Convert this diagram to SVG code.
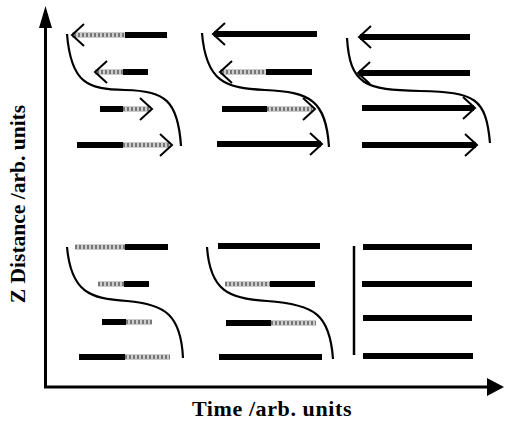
<svg xmlns="http://www.w3.org/2000/svg" width="506" height="422" viewBox="0 0 506 422">
<style>
.bk{stroke:#000;stroke-width:6;stroke-linecap:butt}
.g1{stroke:#cccccc;stroke-width:6}
.g2{stroke:#777;stroke-width:4;stroke-dasharray:2 2}
.hd{fill:none;stroke:#000;stroke-width:2}
.cv{fill:none;stroke:#000;stroke-width:2.2}
.ax{stroke:#000;stroke-width:3}
.lbl{font-family:"Liberation Serif","Times New Roman",serif;font-weight:bold;fill:#000}
</style>
<rect width="506" height="422" fill="#fff"/>
<g id="axes">
<polyline points="45.5,26 45.5,387 488,387" fill="none" class="ax"/>
<path d="M45.5,6 L39,28 L52,28 Z" fill="#000"/>
<path d="M504,387 L487,378 L487,396 Z" fill="#000"/>
<text class="lbl" x="272" y="416" text-anchor="middle" font-size="22" letter-spacing="0.6">Time /arb. units</text>
<text class="lbl" transform="translate(25,204) rotate(-90)" text-anchor="middle" font-size="21.5">Z Distance /arb. units</text>
</g>
<g id="panel-top-1">
<path class="cv" d="M67,34 C71,84 88,89 125,90 C165,91 178,100 181,146"/>
<line class="g1" x1="72" y1="35" x2="125" y2="35"/><line class="g2" x1="74" y1="35" x2="125" y2="35"/><line class="bk" x1="125" y1="35" x2="167" y2="35"/><polyline class="hd" points="84,24 72,35 84,46"/>
<line class="g1" x1="95" y1="72" x2="123" y2="72"/><line class="g2" x1="97" y1="72" x2="123" y2="72"/><line class="bk" x1="123" y1="72" x2="148" y2="72"/><polyline class="hd" points="107,61 95,72 107,83"/>
<line class="bk" x1="100" y1="109" x2="123" y2="109"/><line class="g1" x1="123" y1="109" x2="151" y2="109"/><line class="g2" x1="123" y1="109" x2="150" y2="109"/><polyline class="hd" points="140,98 152,109 140,120"/>
<line class="bk" x1="77" y1="145" x2="123" y2="145"/><line class="g1" x1="123" y1="145" x2="171" y2="145"/><line class="g2" x1="123" y1="145" x2="170" y2="145"/><polyline class="hd" points="160,134 172,145 160,156"/>
</g>
<g id="panel-top-2">
<path class="cv" d="M202,33 C206,82 225,88 265,90 C310,92 326,100 329,147"/>
<line class="bk" x1="214" y1="34" x2="317" y2="34"/><polyline class="hd" points="225,23 213,34 225,45"/>
<line class="g1" x1="220" y1="72" x2="266" y2="72"/><line class="g2" x1="222" y1="72" x2="266" y2="72"/><line class="bk" x1="266" y1="72" x2="312" y2="72"/><polyline class="hd" points="232,61 220,72 232,83"/>
<line class="bk" x1="222" y1="109" x2="267" y2="109"/><line class="g1" x1="267" y1="109" x2="313" y2="109"/><line class="g2" x1="267" y1="109" x2="312" y2="109"/><polyline class="hd" points="303,98 315,109 303,120"/>
<line class="bk" x1="217" y1="144" x2="321" y2="144"/><polyline class="hd" points="310,133 322,144 310,155"/>
</g>
<g id="panel-top-3">
<path class="cv" d="M347,38 C350,85 365,90 420,91 C475,92 486,98 490,143"/>
<line class="bk" x1="360" y1="37" x2="470" y2="37"/><polyline class="hd" points="371,26 359,37 371,48"/>
<line class="bk" x1="359" y1="73" x2="470" y2="73"/><polyline class="hd" points="370,62 358,73 370,84"/>
<line class="bk" x1="362" y1="108" x2="474" y2="108"/><polyline class="hd" points="463,97 475,108 463,119"/>
<line class="bk" x1="362" y1="145" x2="476" y2="145"/><polyline class="hd" points="465,134 477,145 465,156"/>
</g>
<g id="panel-bottom-1">
<path class="cv" d="M67,247 C71,292 90,299 127,301 C165,304 181,315 183,358"/>
<line class="g1" x1="75" y1="247" x2="125" y2="247"/><line class="g2" x1="75" y1="247" x2="125" y2="247"/><line class="bk" x1="125" y1="247" x2="168" y2="247"/>
<line class="g1" x1="98" y1="284" x2="124" y2="284"/><line class="g2" x1="98" y1="284" x2="124" y2="284"/><line class="bk" x1="124" y1="284" x2="149" y2="284"/>
<line class="bk" x1="102" y1="322" x2="126" y2="322"/><line class="g1" x1="126" y1="322" x2="152" y2="322"/><line class="g2" x1="126" y1="322" x2="152" y2="322"/>
<line class="bk" x1="79" y1="357" x2="125" y2="357"/><line class="g1" x1="125" y1="357" x2="170" y2="357"/><line class="g2" x1="125" y1="357" x2="170" y2="357"/>
</g>
<g id="panel-bottom-2">
<path class="cv" d="M207,247 C210,290 228,299 267,301 C315,304 330,315 333,359"/>
<line class="bk" x1="218" y1="246" x2="320" y2="246"/>
<line class="g1" x1="225" y1="284" x2="270" y2="284"/><line class="g2" x1="225" y1="284" x2="270" y2="284"/><line class="bk" x1="270" y1="284" x2="315" y2="284"/>
<line class="bk" x1="226" y1="323" x2="271" y2="323"/><line class="g1" x1="271" y1="323" x2="316" y2="323"/><line class="g2" x1="271" y1="323" x2="316" y2="323"/>
<line class="bk" x1="219" y1="357" x2="322" y2="357"/>
</g>
<g id="panel-bottom-3">
<line x1="354" y1="246" x2="354" y2="355" stroke="#000" stroke-width="2.5"/>
<line class="bk" x1="363" y1="247" x2="472" y2="247"/>
<line class="bk" x1="362" y1="284" x2="472" y2="284"/>
<line class="bk" x1="363" y1="318" x2="472" y2="318"/>
<line class="bk" x1="363" y1="356" x2="473" y2="356"/>
</g>
</svg>
